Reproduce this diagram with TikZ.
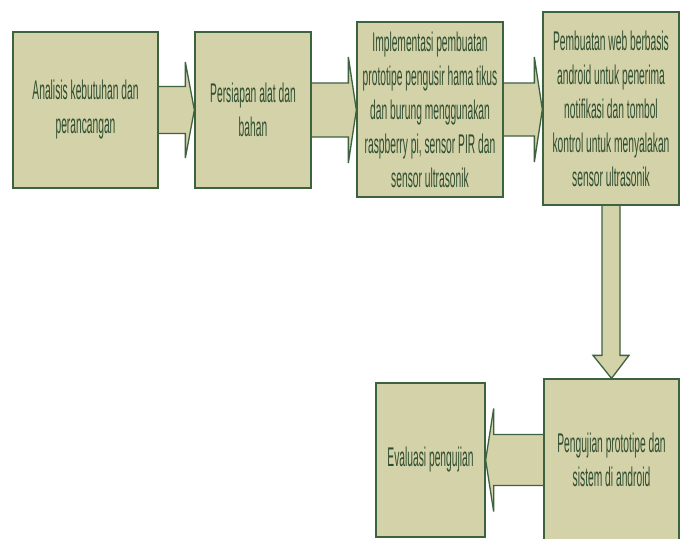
\documentclass[tikz,border=0pt]{standalone}
\usepackage{fontspec}
\setmainfont{Liberation Sans}[FakeStretch=0.38]
\usetikzlibrary{calc,backgrounds}
\definecolor{boxfill}{HTML}{D3D2A9}
\definecolor{boxline}{HTML}{3D6240}
\definecolor{boxtext}{HTML}{2F4D30}
\tikzset{
  stepbox/.style={draw=boxline, fill=boxfill, line width=1.3pt, align=center,
    text=boxtext, inner sep=0pt, font=\fontsize{27}{34}\selectfont},
  barrow/.style={draw=boxline, fill=boxfill, line width=1.3pt, line join=miter}
}
% #1 from anchor, #2 to anchor, #3 shaft half height, #4 head half height, #5 signed head length
\newcommand\harrowconn[5]{%
  \draw[barrow] let \p1=(#1), \p2=(#2) in
    (\x1,{\y1+#3pt}) -- ({\x2-#5pt},{\y1+#3pt}) -- ({\x2-#5pt},{\y1+#4pt}) --
    (\x2,\y1) -- ({\x2-#5pt},{\y1-#4pt}) -- ({\x2-#5pt},{\y1-#3pt}) -- (\x1,{\y1-#3pt});}
\begin{document}
\begin{tikzpicture}[x=1pt,y=-1pt]
\useasboundingbox (0,0) rectangle (685,538);
\clip (0,0) rectangle (685,538);
% boxes
\node[stepbox, minimum width=145, minimum height=156] (b1) at (85.5,110)
  {Analisis kebutuhan dan\\perancangan};
\node[stepbox, minimum width=116, minimum height=156] (b2) at (253,110)
  {Persiapan alat dan\\bahan};
\node[stepbox, minimum width=146, minimum height=175] (b3) at (430,109.5)
  {Implementasi pembuatan\\prototipe pengusir hama tikus\\dan burung menggunakan\\raspberry pi, sensor PIR dan\\sensor ultrasonik};
\node[stepbox, minimum width=136, minimum height=193] (b4) at (611,108.5)
  {Pembuatan web berbasis\\android untuk penerima\\notifikasi dan tombol\\kontrol untuk menyalakan\\sensor ultrasonik};
\node[stepbox, minimum width=135, minimum height=162] (b5) at (611.5,460)
  {Pengujian prototipe dan\\sistem di android};
\node[stepbox, minimum width=109, minimum height=154] (b6) at (430.5,460)
  {Evaluasi pengujian};
% block arrows underneath the boxes
\begin{scope}[on background layer]
\fill[white] (0,0) rectangle (685,538);
\harrowconn{b1.east}{b2.west}{23.5}{48}{9}
\harrowconn{b2.east}{b3.west}{27}{53}{8}
\harrowconn{b3.east}{b4.west}{26.5}{52.5}{8}
\harrowconn{b5.west}{b6.east}{25.5}{51.5}{-8}
\draw[barrow] let \p1=(b4.south), \p2=(b5.north) in
  ({\x1-9pt},\y1) -- ({\x1-9pt},{\y2+23pt}) -- ({\x1-18pt},{\y2+23pt}) --
  (\x2,\y2) -- ({\x1+18pt},{\y2+23pt}) -- ({\x1+9pt},{\y2+23pt}) -- ({\x1+9pt},\y1);
\end{scope}
\end{tikzpicture}
\end{document}
